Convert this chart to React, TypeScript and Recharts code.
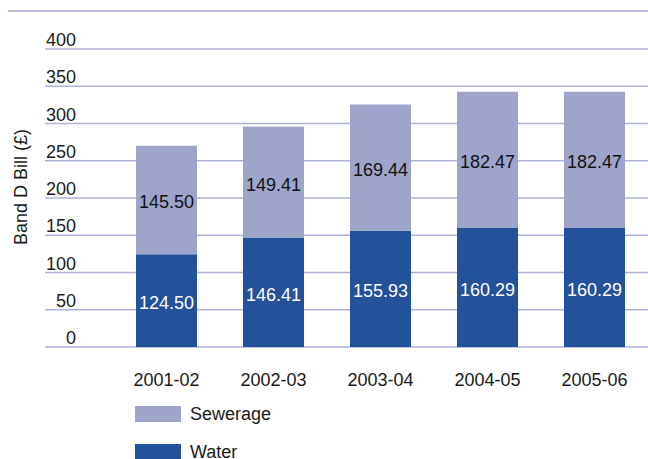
import React from 'react';
import { BarChart, Bar, XAxis, YAxis, CartesianGrid, LabelList, Label } from 'recharts';

const years = ['2001-02', '2002-03', '2003-04', '2004-05', '2005-06'];
const water = [124.5, 146.41, 155.93, 160.29, 160.29];
const sewerage = [145.5, 149.41, 169.44, 182.47, 182.47];
const yTicks = [0, 50, 100, 150, 200, 250, 300, 350, 400];

const WATER = '#23519a';
const SEWER = '#9fa4cb';
const GRID = '#aeb1d8';
const FONT = '"Liberation Sans", Arial, sans-serif';

const data = years.map((year, i) => ({ year, water: water[i], sewerage: sewerage[i] }));

const legendItems = [
  { name: 'Sewerage', color: SEWER },
  { name: 'Water', color: WATER },
];

const YTick = (props: any) => {
  const { y, payload } = props;
  return (
    <text x={76} y={y - 3} textAnchor="end" fontSize={18} fontFamily={FONT} fill="#1a1a1a">
      {payload.value}
    </text>
  );
};

const XTick = (props: any) => {
  const { x, y, payload } = props;
  return (
    <text x={x} y={y + 25} dy="0.35em" textAnchor="middle" fontSize={18} fontFamily={FONT} fill="#1a1a1a">
      {payload.value}
    </text>
  );
};

export default function App() {
  return (
    <div style={{ position: 'absolute', left: 0, top: 0, width: 648, height: 459, overflow: 'hidden', background: '#fff' }}>
      <div style={{ position: 'absolute', left: 8, top: 10, width: 640, height: 2, background: '#bcbfdc' }} />
      <BarChart width={648} height={459} data={data} margin={{ top: 49, right: 0, left: 0, bottom: 82 }}>
        <CartesianGrid vertical={false} stroke={GRID} strokeWidth={1.5} />
        <XAxis
          dataKey="year"
          height={30}
          axisLine={false}
          tickLine={false}
          padding={{ left: 68, right: 0 }}
          tick={<XTick />}
          interval={0}
        />
        <YAxis
          width={45}
          domain={[0, 400]}
          ticks={yTicks}
          axisLine={false}
          tickLine={false}
          tick={<YTick />}
        >
          <Label
            content={() => (
              <text
                transform="translate(21,187) rotate(-90)"
                textAnchor="middle"
                dominantBaseline="central"
                fontSize={18}
                fontFamily={FONT}
                fill="#1a1a1a"
              >
                Band D Bill (£)
              </text>
            )}
          />
        </YAxis>
        <Bar dataKey="water" name="Water" stackId="a" fill={WATER} barSize={61} isAnimationActive={false}>
          <LabelList
            dataKey="water"
            position="center"
            formatter={(v: any) => Number(v).toFixed(2)}
            fill="#ffffff"
            fontSize={18}
            fontFamily={FONT}
            dy={2}
          />
        </Bar>
        <Bar dataKey="sewerage" name="Sewerage" stackId="a" fill={SEWER} barSize={61} isAnimationActive={false}>
          <LabelList
            dataKey="sewerage"
            position="center"
            formatter={(v: any) => Number(v).toFixed(2)}
            fill="#111111"
            fontSize={18}
            fontFamily={FONT}
            dy={2}
          />
        </Bar>
      </BarChart>
      <div style={{ position: 'absolute', left: 135, top: 406, fontFamily: FONT, fontSize: 18, color: '#1a1a1a' }}>
        {legendItems.map(it => (
          <div key={it.name} style={{ display: 'flex', alignItems: 'center', height: 16, marginBottom: 22 }}>
            <div style={{ width: 46, height: 16, background: it.color, marginRight: 9 }} />
            <span>{it.name}</span>
          </div>
        ))}
      </div>
    </div>
  );
}
